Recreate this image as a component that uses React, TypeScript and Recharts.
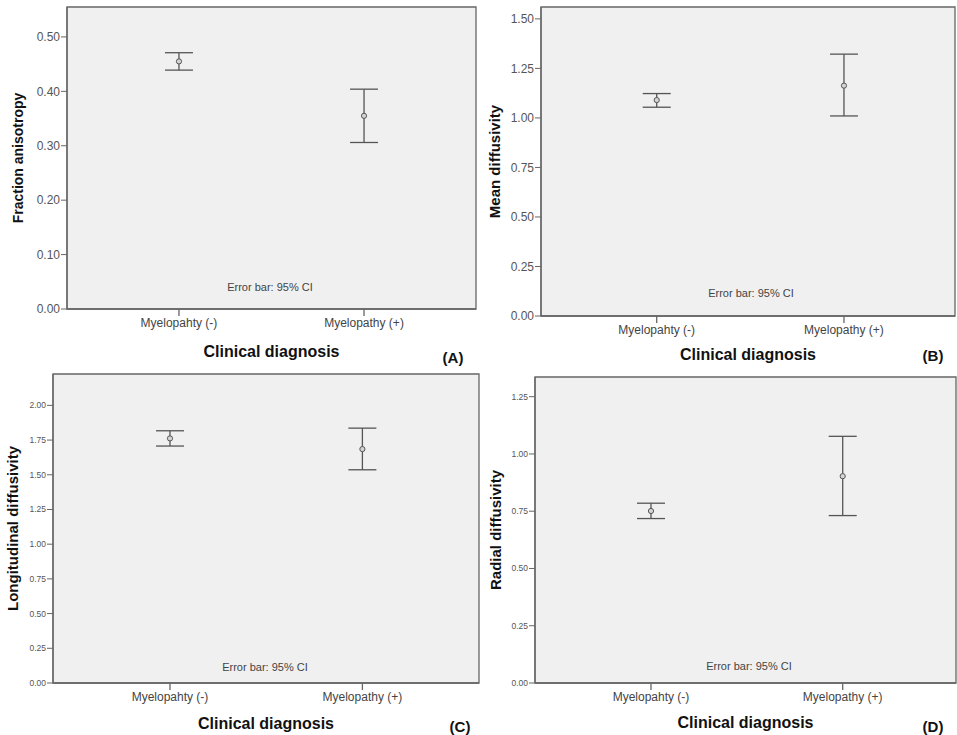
import React from "react";
import {
  ComposedChart,
  Scatter,
  ErrorBar,
  XAxis,
  YAxis,
  ReferenceArea,
} from "recharts";

const FONT = "Arial, 'Liberation Sans', sans-serif";

const categories = ["Myelopahty (-)", "Myelopathy (+)"];

// mean and 95% CI bounds, per group
const faMean = [0.455, 0.355];
const faLow = [0.439, 0.306];
const faHigh = [0.471, 0.404];

const mdMean = [1.09, 1.163];
const mdLow = [1.054, 1.01];
const mdHigh = [1.123, 1.322];

const ldMean = [1.762, 1.685];
const ldLow = [1.707, 1.536];
const ldHigh = [1.817, 1.836];

const rdMean = [0.751, 0.903];
const rdLow = [0.718, 0.731];
const rdHigh = [0.785, 1.077];

const faTicks = [0, 0.1, 0.2, 0.3, 0.4, 0.5];
const mdTicks = [0, 0.25, 0.5, 0.75, 1.0, 1.25, 1.5];
const ldTicks = [0, 0.25, 0.5, 0.75, 1.0, 1.25, 1.5, 1.75, 2.0];
const rdTicks = [0, 0.25, 0.5, 0.75, 1.0, 1.25];

const LINE = "#666";
const PLOT_BG = "#f0f0f0";

function buildData(mean: number[], low: number[], high: number[]) {
  return categories.map((_, i) => ({
    x: i + 1,
    y: mean[i],
    err: [mean[i] - low[i], high[i] - mean[i]],
  }));
}

interface PanelProps {
  left: number;
  top: number;
  width: number;
  height: number;
  margin: { top: number; right: number; left: number; bottom: number };
  yWidth: number;
  xHeight: number;
  xDomain: [number, number];
  yMax: number;
  yTicks: number[];
  yTickSize: number;
  yTitle: string;
  yTitleSize: number;
  yTitleOffset: number;
  xTitleOffset: number;
  data: { x: number; y: number; err: number[] }[];
}

const PointShape = (props: any) => (
  <circle cx={props.cx} cy={props.cy} r={2.6} fill="#d4d4d4" stroke="#555" strokeWidth={1} />
);

function Panel(p: PanelProps) {
  return (
    <div style={{ position: "absolute", left: p.left, top: p.top }}>
      <ComposedChart width={p.width} height={p.height} data={p.data} margin={p.margin}>
        <ReferenceArea
          x1={p.xDomain[0]}
          x2={p.xDomain[1]}
          y1={0}
          y2={p.yMax}
          fill={PLOT_BG}
          fillOpacity={1}
          stroke={LINE}
          strokeWidth={1.3}
          ifOverflow="extendDomain"
        />
        <XAxis
          type="number"
          dataKey="x"
          domain={p.xDomain}
          allowDataOverflow
          ticks={[1, 2]}
          interval={0}
          tickFormatter={(v: number) => categories[v - 1]}
          height={p.xHeight}
          tickSize={7}
          tickMargin={2}
          stroke={LINE}
          axisLine={{ stroke: LINE, strokeWidth: 1.3 }}
          tickLine={{ stroke: LINE, strokeWidth: 1.3 }}
          tick={{ fill: "#444", fontSize: 12, fontFamily: FONT }}
          label={{
            value: "Clinical diagnosis",
            position: "insideBottom",
            offset: p.xTitleOffset,
            fill: "#111",
            fontSize: 16,
            fontWeight: "bold",
            fontFamily: FONT,
          }}
        />
        <YAxis
          type="number"
          domain={[0, p.yMax]}
          allowDataOverflow
          ticks={p.yTicks}
          interval={0}
          tickFormatter={(v: number) => v.toFixed(2)}
          width={p.yWidth}
          tickSize={6}
          tickMargin={1}
          axisLine={{ stroke: LINE, strokeWidth: 1.3 }}
          tickLine={{ stroke: LINE, strokeWidth: 1 }}
          tick={{ fill: "#555", fontSize: p.yTickSize, fontFamily: FONT }}
          label={{
            value: p.yTitle,
            angle: -90,
            position: "insideLeft",
            offset: p.yTitleOffset,
            fill: "#111",
            fontSize: p.yTitleSize,
            fontWeight: "bold",
            fontFamily: FONT,
            style: { textAnchor: "middle" },
          }}
        />
        <Scatter dataKey="y" shape={PointShape} isAnimationActive={false}>
          <ErrorBar dataKey="err" direction="y" width={14} stroke="#555" strokeWidth={1.3} />
        </Scatter>
      </ComposedChart>
    </div>
  );
}

const noteStyle: React.CSSProperties = {
  position: "absolute",
  fontSize: 11,
  color: "#444",
  transform: "translate(-50%, -50%)",
  whiteSpace: "nowrap",
};

const tagStyle: React.CSSProperties = {
  position: "absolute",
  fontSize: 15,
  fontWeight: "bold",
  color: "#111",
  transform: "translate(-50%, -50%)",
};

export default function App() {
  return (
    <div
      style={{
        position: "absolute",
        left: 0,
        top: 0,
        width: 957,
        height: 735,
        background: "#fff",
        fontFamily: FONT,
        overflow: "hidden",
      }}
    >
      <Panel
        left={0}
        top={0}
        width={480}
        height={370}
        margin={{ top: 7, right: 4, left: 0, bottom: 0 }}
        yWidth={67}
        xHeight={61}
        xDomain={[0.395, 2.605]}
        yMax={0.555}
        yTicks={faTicks}
        yTickSize={12}
        yTitle="Fraction anisotropy"
        yTitleSize={14}
        yTitleOffset={18}
        xTitleOffset={13}
        data={buildData(faMean, faLow, faHigh)}
      />
      <Panel
        left={478}
        top={0}
        width={479}
        height={370}
        margin={{ top: 7, right: 2, left: 0, bottom: 0 }}
        yWidth={63}
        xHeight={54}
        xDomain={[0.382, 2.593]}
        yMax={1.56}
        yTicks={mdTicks}
        yTickSize={12}
        yTitle="Mean diffusivity"
        yTitleSize={15}
        yTitleOffset={17}
        xTitleOffset={10}
        data={buildData(mdMean, mdLow, mdHigh)}
      />
      <Panel
        left={0}
        top={370}
        width={480}
        height={365}
        margin={{ top: 4, right: 1, left: 0, bottom: 0 }}
        yWidth={53}
        xHeight={52}
        xDomain={[0.392, 2.606]}
        yMax={2.226}
        yTicks={ldTicks}
        yTickSize={8.5}
        yTitle="Longitudinal diffusivity"
        yTitleSize={15}
        yTitleOffset={13}
        xTitleOffset={6}
        data={buildData(ldMean, ldLow, ldHigh)}
      />
      <Panel
        left={478}
        top={370}
        width={479}
        height={365}
        margin={{ top: 7, right: 1, left: 0, bottom: 0 }}
        yWidth={57}
        xHeight={52}
        xDomain={[0.395, 2.591]}
        yMax={1.336}
        yTicks={rdTicks}
        yTickSize={8.5}
        yTitle="Radial diffusivity"
        yTitleSize={15}
        yTitleOffset={18}
        xTitleOffset={7}
        data={buildData(rdMean, rdLow, rdHigh)}
      />

      <div style={{ ...noteStyle, left: 270, top: 287 }}>Error bar: 95% CI</div>
      <div style={{ ...noteStyle, left: 751, top: 293 }}>Error bar: 95% CI</div>
      <div style={{ ...noteStyle, left: 265, top: 667 }}>Error bar: 95% CI</div>
      <div style={{ ...noteStyle, left: 749, top: 666 }}>Error bar: 95% CI</div>

      <div style={{ ...tagStyle, left: 453, top: 357 }}>(A)</div>
      <div style={{ ...tagStyle, left: 933, top: 355 }}>(B)</div>
      <div style={{ ...tagStyle, left: 460, top: 726 }}>(C)</div>
      <div style={{ ...tagStyle, left: 933, top: 726 }}>(D)</div>
    </div>
  );
}
